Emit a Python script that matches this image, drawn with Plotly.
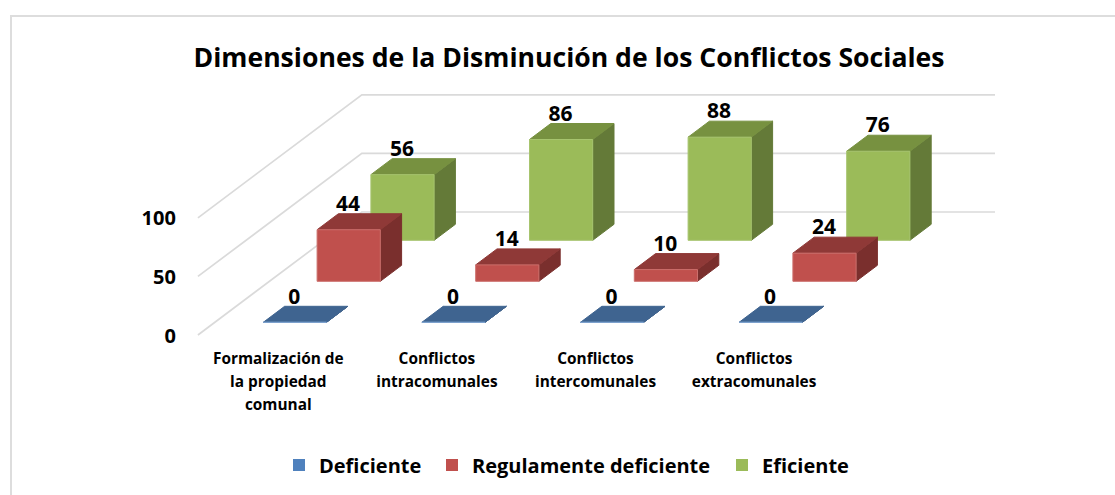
import plotly.graph_objects as go

# ---- data ----
categories = [["Formalización de", "la propiedad", "comunal"],
              ["Conflictos", "intracomunales"],
              ["Conflictos", "intercomunales"],
              ["Conflictos", "extracomunales"]]
series_names = ["Deficiente", "Regulamente deficiente", "Eficiente"]
deficiente = [0, 0, 0, 0]
regulamente = [44, 14, 10, 24]
eficiente = [56, 86, 88, 76]
axis_ticks = [0, 50, 100]
title_text = "Dimensiones de la Disminución de los Conflictos Sociales"

values = [deficiente, regulamente, eficiente]
front_col = ["#4F81BD", "#C0504D", "#9BBB59"]
top_col = ["#3F6490", "#8F3937", "#779140"]
side_col = ["#35547A", "#7A2F2D", "#647A38"]
edge_col = ["#7FA3CF", "#CC6F6C", "#A7C46E"]

# ---- oblique projection (cabinet view of the 3D chart) ----
X0, Y0 = 263.3, 322.3
CAT_DX = 158.6
SER_DX, SER_DY = 53.8, -41.0
VAL = 1.172
BAR_W = 63.2
BAR_DX, BAR_DY = 21.3, -16.0
FLOOR_CAT = -0.307
FLOOR_SER_FRONT = -0.31
FLOOR_SER_BACK = 2.69
FLOOR_BACK_DX = 2.5
WALL_RIGHT = 995
FONT = "Open Sans"
LEGEND_WIDTHS = [108, 245, 90]


def proj(cat, ser, val, dx=0.0, dy=0.0):
    return X0 + cat * CAT_DX + ser * SER_DX + dx, Y0 + ser * SER_DY - val * VAL + dy


fig = go.Figure()

# gridlines on floor-edge and back wall
gx, gy = [], []
for t in axis_ticks:
    a = proj(FLOOR_CAT, FLOOR_SER_FRONT, t)
    b = proj(FLOOR_CAT, FLOOR_SER_BACK, t, FLOOR_BACK_DX)
    gx += [a[0], b[0], WALL_RIGHT, None]
    gy += [a[1], b[1], b[1], None]
fig.add_trace(go.Scatter(x=gx, y=gy, mode="lines", showlegend=False, hoverinfo="skip",
                         line=dict(color="#DADADA", width=1.7)))

# bars, back series first so that nearer ones cover them
for s in [2, 1, 0]:
    fx, fy, sx, sy, tx, ty = [], [], [], [], [], []
    for c, v in enumerate(values[s]):
        p0 = proj(c, s, 0)
        p1 = proj(c, s, 0, BAR_W)
        p2 = proj(c, s, v, BAR_W)
        p3 = proj(c, s, v)
        fx += [p0[0], p1[0], p2[0], p3[0], p0[0], None]
        fy += [p0[1], p1[1], p2[1], p3[1], p0[1], None]
        q1 = proj(c, s, 0, BAR_W + BAR_DX, BAR_DY)
        q2 = proj(c, s, v, BAR_W + BAR_DX, BAR_DY)
        q3 = proj(c, s, v, BAR_DX, BAR_DY)
        sx += [p1[0], q1[0], q2[0], p2[0], p1[0], None]
        sy += [p1[1], q1[1], q2[1], p2[1], p1[1], None]
        tx += [p3[0], p2[0], q2[0], q3[0], p3[0], None]
        ty += [p3[1], p2[1], q2[1], q3[1], p3[1], None]
    for xs, ys, col, ln in [(sx, sy, side_col[s], side_col[s]),
                            (tx, ty, top_col[s], top_col[s]),
                            (fx, fy, front_col[s], edge_col[s])]:
        fig.add_trace(go.Scatter(x=xs, y=ys, mode="lines", fill="toself", fillcolor=col,
                                 line=dict(color=ln, width=1), showlegend=False,
                                 hoverinfo="skip"))

# value labels
lx, ly, lt = [], [], []
for s in range(3):
    for c, v in enumerate(values[s]):
        p = proj(c, s, v, 31.0, -24.0)
        lx.append(p[0]); ly.append(p[1]); lt.append(str(v))
fig.add_trace(go.Scatter(x=lx, y=ly, text=lt, mode="text", textposition="middle center",
                         showlegend=False, hoverinfo="skip",
                         textfont=dict(family=FONT, size=21, color="#000000", weight="bold")))

# value-axis labels
ax_x, ax_y = [], []
for t in axis_ticks:
    p = proj(FLOOR_CAT, FLOOR_SER_FRONT, t)
    ax_x.append(p[0] - 22); ax_y.append(p[1] + 2.5)
fig.add_trace(go.Scatter(x=ax_x, y=ax_y, text=[str(t) for t in axis_ticks], mode="text",
                         textposition="middle left", showlegend=False, hoverinfo="skip",
                         textfont=dict(family=FONT, size=20, color="#000000", weight="bold")))

# category labels
cx, cy, ct = [], [], []
for c, lines in enumerate(categories):
    for i, line in enumerate(lines):
        cx.append(proj(c, 0, 0, 15)[0])
        cy.append(360 + i * 23)
        ct.append(line)
fig.add_trace(go.Scatter(x=cx, y=cy, text=ct, mode="text", textposition="middle center",
                         showlegend=False, hoverinfo="skip",
                         textfont=dict(family=FONT, size=15.4, color="#000000", weight="bold")))

# legend entries
for s in range(3):
    fig.add_trace(go.Scatter(x=[None], y=[None], mode="markers", name=series_names[s],
                             legendwidth=LEGEND_WIDTHS[s],
                             marker=dict(symbol="square", size=12, color=front_col[s])))

fig.update_layout(
    width=1115, height=495, margin=dict(l=0, r=0, t=0, b=0),
    paper_bgcolor="#FFFFFF", plot_bgcolor="#FFFFFF",
    xaxis=dict(range=[0, 1115], visible=False, fixedrange=True),
    yaxis=dict(range=[495, 0], visible=False, fixedrange=True),
    title=dict(text=title_text, x=569 / 1115, xanchor="center", y=1 - 58 / 495, yanchor="middle",
               font=dict(family=FONT, size=26.6, color="#000000", weight="bold")),
    legend=dict(orientation="h", x=279 / 1115, xanchor="left", y=1 - 465 / 495, yanchor="middle",
                font=dict(family=FONT, size=20, color="#000000", weight="bold"),
                itemsizing="trace"),
    shapes=[dict(type="rect", xref="x", yref="y", x0=11, y0=16, x1=1140, y1=520,
                 line=dict(color="#DDDDDD", width=2), layer="below")],
)

fig.write_html("out.html", config={"displayModeBar": False},
               post_script="document.body.style.margin='0';")
